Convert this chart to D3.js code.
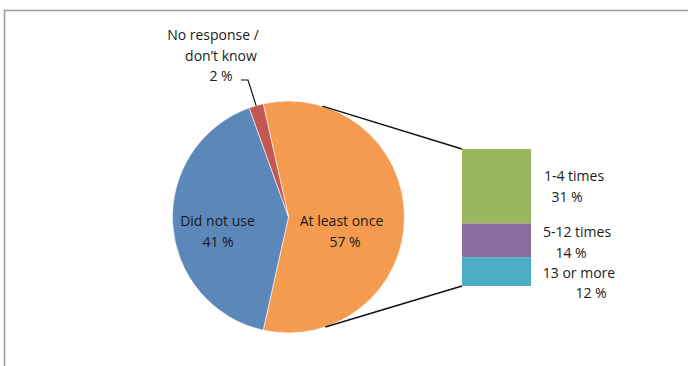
<!DOCTYPE html>
<html>
<head>
<meta charset="utf-8">
<script src="https://cdn.jsdelivr.net/npm/d3@7"></script>
<style>
  html, body { margin: 0; padding: 0; background: #fff; }
  svg text { font-family: "Open Sans", sans-serif; font-size: 14px; fill: #1a1a1a; }
</style>
</head>
<body>
<svg width="688" height="366"></svg>
<script>
// pie slices (main pie)
const pieNames = ["At least once", "Did not use", "No response / don't know"];
const pieValues = [57, 41, 2];
const pieColors = ["#f59b4f", "#5b87b9", "#c4574f"];

// breakdown of "At least once" (bar of pie)
const barNames = ["1-4 times", "5-12 times", "13 or more"];
const barValues = [31, 14, 12];
const barColors = ["#9bb75e", "#8a6c9e", "#4cadc5"];

const width = 688;
const height = 366;
const cx = 288.5, cy = 217, radius = 116;
const bar = { x: 462, y: 149, w: 69 };

const svg = d3.select("svg");

// frame (gray border, only top and left visible)
svg.append("path")
  .attr("d", `M4.5,${height} V10.5 H${width}`)
  .attr("fill", "none")
  .attr("stroke", "#9a9a9a")
  .attr("stroke-width", 1.5);

// pie - "At least once" slice centred on the right side
const deg = Math.PI / 180;
const startAngle = 90 * deg - (pieValues[0] / 100) * Math.PI;
const pie = d3.pie().sort(null)
  .startAngle(startAngle)
  .endAngle(startAngle + 2 * Math.PI);
const arcs = pie(pieValues);
const arc = d3.arc().innerRadius(0).outerRadius(radius);

const g = svg.append("g").attr("transform", `translate(${cx},${cy})`);
g.selectAll("path.slice")
  .data(arcs)
  .enter()
  .append("path")
  .attr("class", "slice")
  .attr("d", arc)
  .attr("fill", (d, i) => pieColors[i])
  .attr("stroke", "#fff")
  .attr("stroke-width", 0.6);

// bar of pie
const barScale = d3.scaleLinear()
  .domain([0, d3.sum(barValues)])
  .range([0, 137]);
let acc = 0;
const barData = barValues.map((v, i) => {
  const item = { name: barNames[i], value: v, y0: acc, y1: acc + v, color: barColors[i] };
  acc += v;
  return item;
});
svg.selectAll("rect.seg")
  .data(barData)
  .enter()
  .append("rect")
  .attr("class", "seg")
  .attr("x", bar.x)
  .attr("y", d => bar.y + barScale(d.y0))
  .attr("width", bar.w)
  .attr("height", d => barScale(d.y1) - barScale(d.y0))
  .attr("fill", d => d.color);

// connector lines from pie edge to bar corners
const connAngles = [17 * deg, 161.5 * deg];
const barTop = bar.y, barBottom = bar.y + barScale(d3.sum(barValues));
[[connAngles[0], barTop], [connAngles[1], barBottom]].forEach(([a, yEnd]) => {
  svg.append("line")
    .attr("x1", cx + radius * Math.sin(a))
    .attr("y1", cy - radius * Math.cos(a))
    .attr("x2", bar.x)
    .attr("y2", yEnd)
    .attr("stroke", "#111")
    .attr("stroke-width", 1.4);
});

// labels
function multiline(xs, y, lines) {
  const t = svg.append("text").attr("text-anchor", "middle");
  lines.forEach((l, i) => {
    t.append("tspan").attr("x", xs[i]).attr("y", y + i * 20.5).text(l);
  });
}
const pct = v => `${v} %`;

multiline([217.5, 218], 226, ["Did not use", pct(pieValues[1])]);
multiline([341.5, 345], 226, ["At least once", pct(pieValues[0])]);
multiline([213, 221, 221], 40, ["No response /", "don\u2019t know", pct(pieValues[2])]);

// leader for small slice
const redMid = (arcs[2].startAngle + arcs[2].endAngle) / 2;
svg.append("path")
  .attr("d", `M241,80 H248 L${cx + radius * Math.sin(redMid)},${cy - radius * Math.cos(redMid)}`)
  .attr("fill", "none")
  .attr("stroke", "#111")
  .attr("stroke-width", 1.2);

// bar labels
const labelDy = [0, 2, 11];
const labelX = [[574, 567], [577, 571], [579, 591]];
barData.forEach((d, i) => {
  const ym = bar.y + (barScale(d.y0) + barScale(d.y1)) / 2 + labelDy[i];
  multiline(labelX[i], ym - 5, [d.name, pct(d.value)]);
});
</script>
</body>
</html>
